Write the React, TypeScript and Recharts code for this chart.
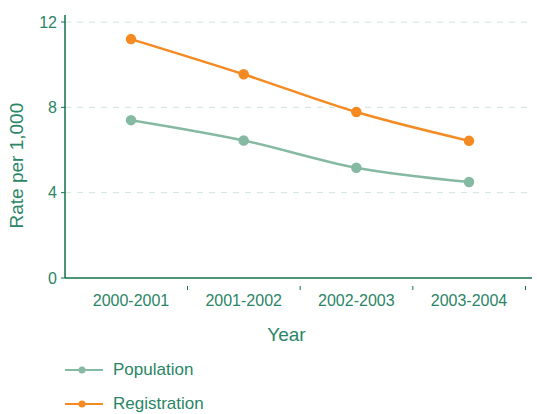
import { LineChart, Line, XAxis, YAxis, CartesianGrid, Label } from 'recharts';

const years = ['2000-2001', '2001-2002', '2002-2003', '2003-2004'];
const population = [7.4, 6.45, 5.17, 4.5];
const registration = [11.2, 9.55, 7.78, 6.43];
const yTicks = [0, 4, 8, 12];

const data = years.map((year, i) => ({
    year,
    population: population[i],
    registration: registration[i]
}));

const FONT = '"Liberation Sans", Arial, sans-serif';
const TEXT = '#2a8566';
const AXIS = '#137049';
const GREEN = '#86b9a2';
const ORANGE = '#f58a22';
const HALF_BAND = 56.5;

const XTick = (props: any) => {
    const { x, y, payload } = props;
    return (
        <g>
            <line x1={x + HALF_BAND} y1={y} x2={x + HALF_BAND} y2={y + 4} stroke={AXIS} strokeWidth={1} />
            <text x={x} y={y + 20} textAnchor="middle" fill={TEXT} fontSize={16} fontFamily={FONT}>
                {payload.value}
            </text>
        </g>
    );
};

const legendItems = [
    { name: 'Population', color: GREEN },
    { name: 'Registration', color: ORANGE }
];

export default function App() {
    return (
        <div style={{ position: 'absolute', left: 0, top: 0, width: 537, height: 414 }}>
            <LineChart width={537} height={414} data={data} margin={{ top: 15, right: 5, bottom: 66, left: 0 }}>
                <CartesianGrid
                    horizontal
                    vertical={false}
                    stroke="#cfe6dc"
                    strokeDasharray="6 6"
                    horizontalValues={[4, 8, 12]}
                />
                <XAxis
                    dataKey="year"
                    padding={{ left: 66, right: 63 }}
                    axisLine={{ stroke: AXIS, strokeWidth: 1.5 }}
                    tickLine={false}
                    tick={<XTick />}
                    height={70}
                    interval={0}
                >
                    <Label
                        value="Year"
                        position="insideBottom"
                        offset={7}
                        dx={-12}
                        fill={TEXT}
                        fontSize={19}
                        fontFamily={FONT}
                    />
                </XAxis>
                <YAxis
                    domain={[0, 12.33]}
                    ticks={yTicks}
                    width={65}
                    axisLine={{ stroke: AXIS, strokeWidth: 1.5 }}
                    tickLine={{ stroke: AXIS }}
                    tickSize={4}
                    tickMargin={4}
                    tick={{ fill: TEXT, fontSize: 16, fontFamily: FONT }}
                    allowDataOverflow
                >
                    <Label
                        value="Rate per 1,000"
                        angle={-90}
                        position="insideLeft"
                        offset={16}
                        dy={82}
                        fill={TEXT}
                        fontSize={19}
                        fontFamily={FONT}
                    />
                </YAxis>
                <Line
                    type="monotone"
                    dataKey="population"
                    stroke={GREEN}
                    strokeWidth={2.5}
                    dot={{ r: 4, fill: GREEN, stroke: GREEN }}
                    isAnimationActive={false}
                />
                <Line
                    type="monotone"
                    dataKey="registration"
                    stroke={ORANGE}
                    strokeWidth={2.5}
                    dot={{ r: 4, fill: ORANGE, stroke: ORANGE }}
                    isAnimationActive={false}
                />
            </LineChart>
            <div style={{ position: 'absolute', left: 65, top: 353, fontFamily: FONT, color: TEXT, fontSize: 17 }}>
                {legendItems.map((item) => (
                    <div key={item.name} style={{ display: 'flex', alignItems: 'center', height: 34 }}>
                        <svg width={40} height={10} style={{ marginRight: 8 }}>
                            <line x1={0} y1={5} x2={38} y2={5} stroke={item.color} strokeWidth={2} />
                            <circle cx={17} cy={5} r={3.5} fill={item.color} />
                        </svg>
                        <span>{item.name}</span>
                    </div>
                ))}
            </div>
        </div>
    );
}
